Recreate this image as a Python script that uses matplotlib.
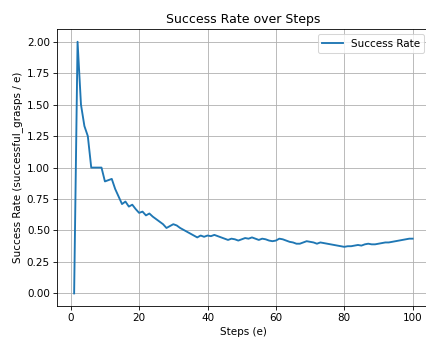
import numpy as np
import matplotlib
matplotlib.use('Agg')
import matplotlib.pyplot as plt

steps = np.arange(1, 101)
success_rate = [
    0.00, 2.00, 1.50, 1.33, 1.25, 1.00, 1.00, 1.00, 1.00, 0.89,
    0.90, 0.91, 0.83, 0.77, 0.71, 0.73, 0.69, 0.705, 0.67, 0.64,
    0.65, 0.62, 0.635, 0.61, 0.59, 0.57, 0.55, 0.52, 0.535, 0.55,
    0.54, 0.52, 0.505, 0.49, 0.475, 0.46, 0.445, 0.46, 0.45, 0.46,
    0.455, 0.465, 0.455, 0.445, 0.435, 0.425, 0.435, 0.43, 0.42, 0.43,
    0.44, 0.435, 0.445, 0.435, 0.425, 0.435, 0.43, 0.42, 0.415, 0.42,
    0.435, 0.43, 0.42, 0.41, 0.405, 0.395, 0.395, 0.405, 0.415, 0.41,
    0.405, 0.395, 0.405, 0.40, 0.395, 0.39, 0.385, 0.38, 0.375, 0.37,
    0.375, 0.375, 0.38, 0.385, 0.38, 0.39, 0.395, 0.39, 0.39, 0.395,
    0.40, 0.405, 0.405, 0.41, 0.415, 0.42, 0.425, 0.43, 0.435, 0.435,
]

# reference looks like a 100 dpi figure shrunk to 3/4, so draw at 75 dpi
fig = plt.figure(figsize=(426 / 75, 338 / 75), dpi=75)
# axes runs slightly past the right edge, as in the reference crop
ax = fig.add_axes([0.1343, 0.0947, 0.8742, 0.819])
ax.plot(steps, success_rate, label='Success Rate', lw=1.8)
ax.set_title('Success Rate over Steps')
ax.set_xlabel('Steps (e)')
ax.set_ylabel('Success Rate (successful_grasps / e)')
ax.set_xticks([0, 20, 40, 60, 80, 100])
ax.set_yticks(np.arange(0, 2.01, 0.25))
ax.grid(True)
ax.legend(loc='upper right')
fig.savefig('out.png', dpi=75)
